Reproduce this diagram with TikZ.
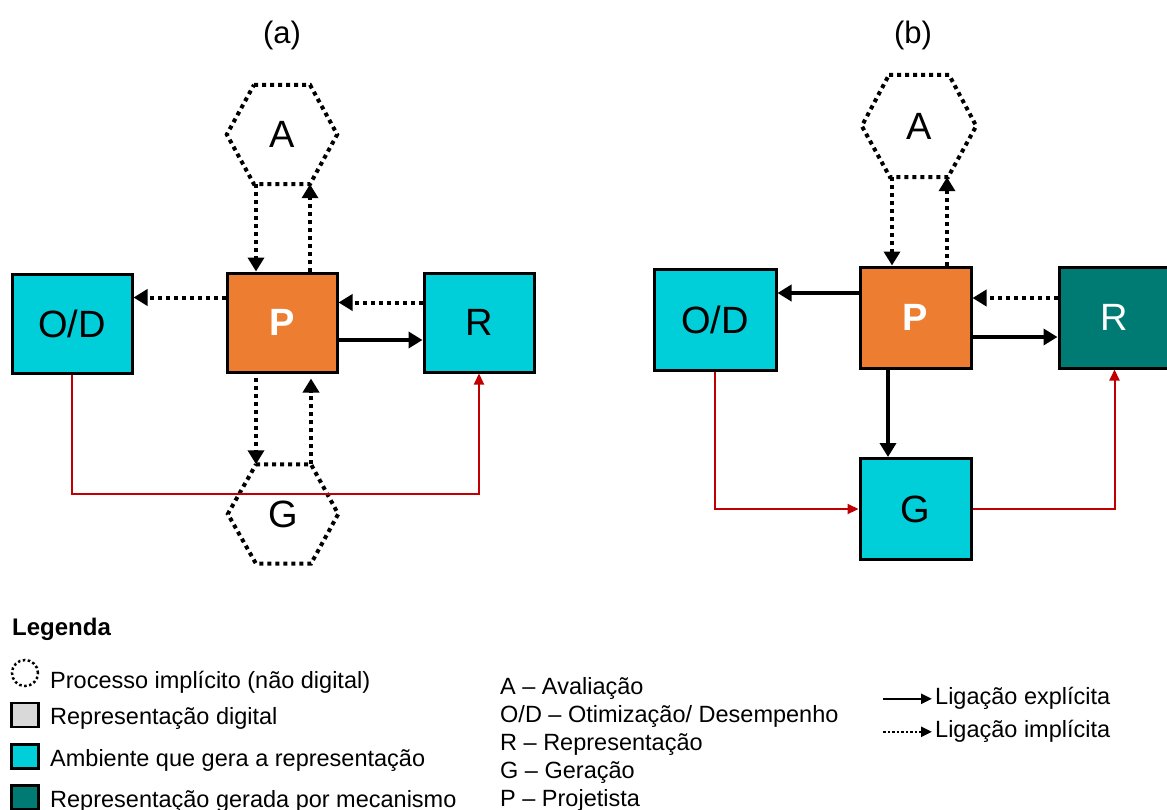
\documentclass[tikz,border=0pt]{standalone}
\usepackage{fontspec}
\setmainfont{Liberation Sans}
\usetikzlibrary{arrows.meta,calc}

\definecolor{cyanbox}{RGB}{0,206,217}
\definecolor{orangebox}{RGB}{237,125,49}
\definecolor{tealbox}{RGB}{0,123,116}
\definecolor{redline}{RGB}{192,0,0}
\definecolor{graybox}{RGB}{217,217,217}

\begin{document}
\begin{tikzpicture}[x=1pt,y=-1pt,
  box/.style={draw=black, line width=3pt, minimum width=110pt, minimum height=99pt,
    inner sep=0pt, font=\fontsize{38}{38}\selectfont},
  hexnode/.style={minimum width=110pt, minimum height=99pt, inner sep=0pt,
    font=\fontsize{38}{38}\selectfont},
  hexline/.style={line width=4pt, dash pattern=on 4pt off 4pt},
  dotarrow/.style={line width=4pt, dash pattern=on 4pt off 4pt,
    -{Triangle[length=14pt,width=16pt]}},
  solidarrow/.style={line width=3.5pt, -{Triangle[length=14pt,width=16pt]}},
  redarrow/.style={draw=redline, line width=2pt, -{Triangle[length=11pt,width=10pt]}},
  title/.style={font=\fontsize{31}{31}\selectfont},
  legtext/.style={anchor=base west, inner sep=0pt, font=\fontsize{23.5}{23.5}\selectfont},
  legicon/.style={draw=black, line width=2.5pt, minimum width=27pt, minimum height=24pt, inner sep=0pt},
]
\useasboundingbox (0,0) rectangle (1167,809);

% ---------- panel (a) ----------
\node[title] (ta) at (282,35) {(a)};
\node[box, fill=cyanbox, minimum width=120pt] (OD1) at (72,323.5) {O/D};
\node[box, fill=orangebox, text=white, font=\fontsize{38}{38}\selectfont\bfseries] (P1) at (282,322.5) {P};
\node[box, fill=cyanbox] (R1) at (479,322.5) {R};
\node[hexnode] (A1) at (282,134.5) {A};
\node[hexnode] (G1) at (283,514) {G};
\draw[hexline] ([xshift=-28pt]A1.north) -- ([xshift=28pt]A1.north) -- (A1.east)
  -- ([xshift=28pt]A1.south) -- ([xshift=-28pt]A1.south) -- (A1.west) -- cycle;
\draw[hexline] ([xshift=-27pt]G1.north) -- ([xshift=28pt]G1.north) -- (G1.east)
  -- ([xshift=28pt]G1.south) -- ([xshift=-27pt]G1.south) -- (G1.west) -- cycle;

\draw[dotarrow] ([xshift=-26pt]A1.south) -- ([xshift=-26pt]A1.south |- P1.north);
\draw[dotarrow] ([xshift=28pt]P1.north) -- ([xshift=28pt]P1.north |- A1.south);
\draw[dotarrow, shorten <=4pt] ([xshift=-26pt]P1.south) -- ([xshift=-26pt]P1.south |- G1.north);
\draw[dotarrow, shorten >=5pt] ([xshift=29pt]P1.south |- G1.north) -- ([xshift=29pt]P1.south);
\draw[dotarrow] ([yshift=25pt]P1.west) -- ([yshift=25pt]P1.west -| OD1.east);
\draw[dotarrow] ([yshift=20pt]R1.west) -- ([yshift=20pt]R1.west -| P1.east);
\draw[solidarrow] ([yshift=-17.5pt]P1.east) -- ([yshift=-17.5pt]P1.east -| R1.west);
\draw[redarrow] (OD1.south) -- ++(0,119) -| (R1.south);

% ---------- panel (b) ----------
\node[title] (tb) at (913,35) {(b)};
\node[box, fill=cyanbox, minimum width=122pt, minimum height=101pt] (OD2) at (715,319.5) {O/D};
\node[box, fill=orangebox, text=white, minimum width=111pt, minimum height=101pt,
  font=\fontsize{38}{38}\selectfont\bfseries] (P2) at (915.5,317.5) {P};
\node[box, fill=tealbox, text=white, minimum width=111pt, minimum height=101pt] (R2) at (1114.5,317.5) {R};
\node[box, fill=cyanbox, minimum width=111pt, minimum height=101pt] (G2) at (915.5,509) {G};
\node[hexnode, minimum width=114pt, minimum height=102pt] (A2) at (919,126) {A};
\draw[hexline] ([xshift=-30pt]A2.north) -- ([xshift=30pt]A2.north) -- (A2.east)
  -- ([xshift=29pt]A2.south) -- ([xshift=-29pt]A2.south) -- (A2.west) -- cycle;

\draw[dotarrow] ([xshift=-23.5pt]P2.north |- A2.south) -- ([xshift=-23.5pt]P2.north);
\draw[dotarrow] ([xshift=31.5pt]P2.north) -- ([xshift=31.5pt]P2.north |- A2.south);
\draw[solidarrow] ([yshift=24.5pt]P2.west) -- ([yshift=24.5pt]P2.west -| OD2.east);
\draw[dotarrow] ([yshift=19.5pt]R2.west) -- ([yshift=19.5pt]R2.west -| P2.east);
\draw[solidarrow] ([yshift=-19.5pt]P2.east) -- ([yshift=-19.5pt]P2.east -| R2.west);
\draw[solidarrow] ([xshift=-27.5pt]P2.south) -- ([xshift=-27.5pt]P2.south |- G2.north);
\draw[redarrow] (OD2.south) |- (G2.west);
\draw[redarrow] (G2.east) -| (R2.south);

% ---------- legend ----------
\node[anchor=base west, inner sep=0pt, font=\fontsize{24}{24}\selectfont\bfseries] (leg) at (12,635) {Legenda};

\node[circle, draw=black, line width=2.5pt, dash pattern=on 2.5pt off 2.5pt,
  minimum size=26pt, inner sep=0pt] (ic1) at (25,673) {};
\node[legtext] (lt1) at (50,688) {Processo implícito (não digital)};
\node[legicon, fill=graybox] (ic2) at (25,715) {};
\node[legtext] (lt2) at (50,724) {Representação digital};
\node[legicon, fill=cyanbox] (ic3) at (25,756.5) {};
\node[legtext] (lt3) at (50,766) {Ambiente que gera a representação};
\node[legicon, fill=tealbox] (ic4) at (25,797.5) {};
\node[legtext] (lt4) at (50,807) {Representação gerada por mecanismo};

\node[legtext] (k1) at (500,694) {A – Avaliação};
\node[legtext] (k2) at (500,722) {O/D – Otimização/ Desempenho};
\node[legtext] (k3) at (500,750) {R – Representação};
\node[legtext] (k4) at (500,778) {G – Geração};
\node[legtext] (k5) at (500,806) {P – Projetista};

\node[legtext] (lexp) at (935,704) {Ligação explícita};
\node[legtext] (limp) at (935,737) {Ligação implícita};
\draw[line width=2.5pt, -{Triangle[length=11pt,width=10pt]}]
  ([xshift=-52pt,yshift=-1pt]lexp.west) -- ([xshift=-3pt,yshift=-1pt]lexp.west);
\draw[line width=2.5pt, dash pattern=on 2.5pt off 2pt, -{Triangle[length=11pt,width=10pt]}]
  ([xshift=-52pt,yshift=-1pt]limp.west) -- ([xshift=-3pt,yshift=-1pt]limp.west);
\end{tikzpicture}
\end{document}
